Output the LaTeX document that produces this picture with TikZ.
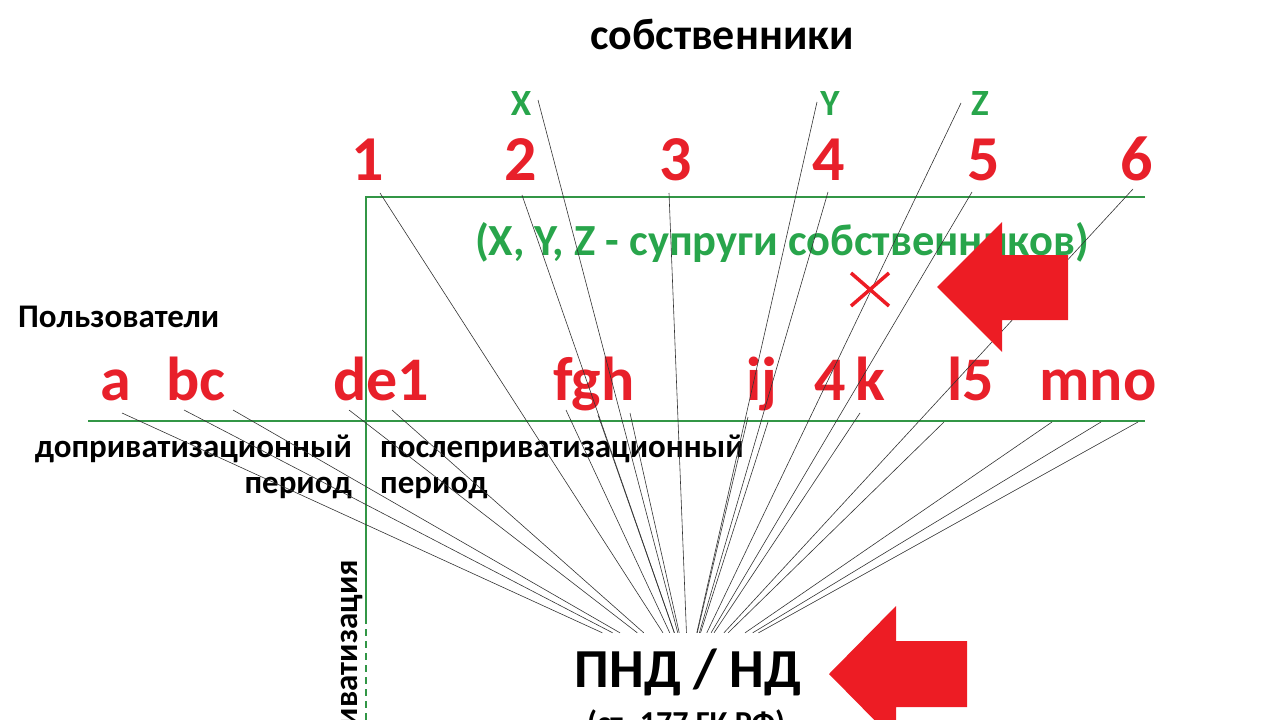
\documentclass[tikz,border=0pt]{standalone}
\usepackage{fontspec}
\setmainfont{Carlito}
\definecolor{labelred}{RGB}{232,32,42}
\definecolor{arrowred}{RGB}{237,28,36}
\definecolor{spousegreen}{RGB}{40,165,75}
\definecolor{axisgreen}{RGB}{50,150,70}
\tikzset{
  owner/.style={text=labelred, font=\fontsize{64}{66}\selectfont\bfseries, anchor=base, inner sep=0pt},
  user/.style={text=labelred, font=\fontsize{62}{64}\selectfont\bfseries, anchor=base, inner sep=0pt},
  spouse/.style={text=spousegreen, font=\fontsize{37}{39}\selectfont\bfseries, anchor=base, inner sep=0pt},
  caption/.style={font=\fontsize{33}{35}\selectfont\bfseries, inner sep=0pt},
  fan/.style={draw=black!80, line width=0.6pt},
  axis/.style={draw=axisgreen, line width=2pt},
}
\begin{document}
\begin{tikzpicture}[x=1pt,y=-1pt]
        \useasboundingbox (0,0) rectangle (1280,720);
        \clip (0,0) rectangle (1280,720);

        % time axes
        \draw[axis] (1145,197) -- (366,197) -- (366,617);
        \draw[axis, line width=1.5pt, dash pattern=on 7pt off 5pt] (366,617) -- (366,720);
        \draw[axis] (88,421) -- (1145,421);

        % owners and spouses
        \node[caption, font=\fontsize{44}{46}\selectfont\bfseries, anchor=base] (owners) at (722,49) {собственники};
        \node[owner] (n1) at (368,180) {1};
        \node[owner] (n2) at (521,180) {2};
        \node[owner] (n3) at (676,180) {3};
        \node[owner] (n4) at (829,180) {4};
        \node[owner] (n5) at (984,180) {5};
        \node[owner] (n6) at (1137,180) {6};
        \node[spouse] (nX) at (521,115) {X};
        \node[spouse] (nY) at (830,115) {Y};
        \node[spouse] (nZ) at (980,115) {Z};
        \node[spouse, font=\fontsize{44.5}{46}\selectfont\bfseries] (spouses) at (782,255) {(X, Y, Z - супруги собственников)};

        % users
        \node[caption, anchor=base west] (users) at (18,327) {Пользователи};
        \node[user] (ua) at (116,400) {a};
        \node[user] (ubc) at (196,400) {bc};
        \node[user] (ude1) at (381,400) {de1};
        \node[user] (ufgh) at (594,400) {fgh};
        \node[user] (uij) at (762,400) {ij};
        \node[user] (u4k) at (850,400) {4\,k};
        \node[user] (ul5) at (971,400) {l5};
        \node[user] (umno) at (1098,400) {mno};

        % periods
        \node[caption, anchor=base east] (before) at (352,457) {доприватизационный};
        \node[caption, anchor=base east] (beforep) at (352,493) {период};
        \node[caption, anchor=base west] (after) at (380,457) {послеприватизационный};
        \node[caption, anchor=base west] (afterp) at (380,493) {период};
        \node[caption, rotate=90, anchor=base east] (privat) at (357,560) {приватизация};

        % right of use
        \node[font=\fontsize{55}{57}\selectfont\bfseries, inner sep=0pt, minimum width=230pt, minimum height=78pt] (pnd) at (688,672) {ПНД / НД};
        \node[caption, font=\fontsize{32}{34}\selectfont\bfseries, anchor=base] (law) at (686,733) {(ст. 177 ГК РФ)};

        \coordinate (s1) at (380,193);
        \coordinate (s2) at (522,195);
        \coordinate (sX) at (538,100);
        \coordinate (s3) at (669,193);
        \coordinate (sY) at (817,102);
        \coordinate (s4) at (828,192);
        \coordinate (sZ) at (961,103);
        \coordinate (s5) at (972,192);
        \coordinate (s6) at (1133,189);
        \coordinate (sa) at (122,413);
        \coordinate (sb) at (184,410);
        \coordinate (sc) at (233,410);
        \coordinate (sd) at (349,410);
        \coordinate (se) at (392,410);
        \coordinate (sf) at (566,410);
        \coordinate (sg) at (598,415);
        \coordinate (sh) at (630,413);
        \coordinate (si) at (748,417);
        \coordinate (sj) at (768,422);
        \coordinate (sk) at (860,413);
        \coordinate (sl) at (944,422);
        \coordinate (sm) at (1052,422);
        \coordinate (sn) at (1101,422);
        \coordinate (so) at (1138,422);

        % owners to pnd
        \path[fan] (s1) edge (pnd);
        \path[fan] (s2) edge (pnd);
        \path[fan] (sX) edge (pnd);
        \path[fan] (s3) edge (pnd);
        \path[fan] (sY) edge (pnd);
        \path[fan] (s4) edge (pnd);
        \path[fan] (sZ) edge (pnd);
        \path[fan] (s5) edge (pnd);
        \path[fan] (s6) edge (pnd);

        % users to pnd
        \path[fan] (sa) edge (pnd);
        \path[fan] (sb) edge (pnd);
        \path[fan] (sc) edge (pnd);
        \path[fan] (sd) edge (pnd);
        \path[fan] (se) edge (pnd);
        \path[fan] (sf) edge (pnd);
        \path[fan] (sg) edge (pnd);
        \path[fan] (sh) edge (pnd);
        \path[fan] (si) edge (pnd);
        \path[fan] (sj) edge (pnd);
        \path[fan] (sk) edge (pnd);
        \path[fan] (sl) edge (pnd);
        \path[fan] (sm) edge (pnd);
        \path[fan] (sn) edge (pnd);
        \path[fan] (so) edge (pnd);

        % marks
        \draw[arrowred, line width=3.5pt] (851,273) -- (889,306) (851,306) -- (889,273);
        \fill[arrowred] (937,287) -- (1002,222) -- (1002,255) -- (1068,255) -- (1068,320) -- (1002,320) -- (1002,352) -- cycle;
        \fill[arrowred] (829,674) -- (896,606) -- (896,641) -- (967,641) -- (967,707) -- (896,707) -- (896,742) -- cycle;
\end{tikzpicture}
\end{document}
